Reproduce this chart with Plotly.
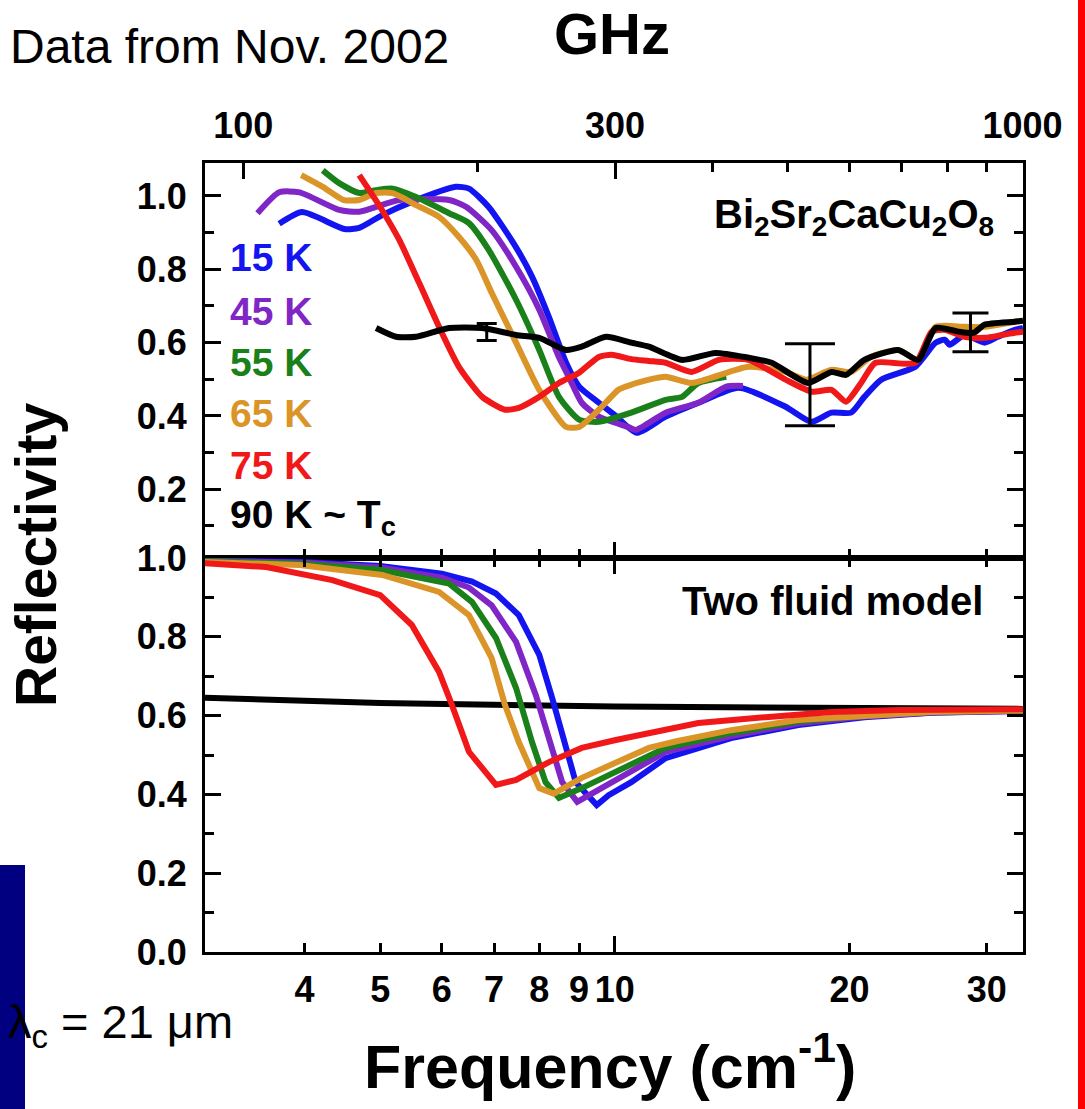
import numpy as np
import plotly.graph_objects as go

# ---------------- data ----------------
GHZ_PER_CM = 29.9792458

# Top panel: measured reflectivity (frequency in cm^-1)
blue_f = [3.71, 3.97, 4.50, 4.70, 5.03, 5.49, 6.25, 6.50, 6.89, 7.47, 7.83, 8.23, 8.66, 9.0, 9.54, 10.03,
          10.67, 11.62, 12.81, 14.42, 16.56, 17.88, 18.97, 20.1, 20.9, 21.97, 24.3, 25.8, 26.5, 26.9, 28.1,
          29.8, 31.0, 32.6, 33.4]
blue_R = [0.924, 0.956, 0.91, 0.913, 0.948, 0.984, 1.025, 1.02, 0.97, 0.86, 0.78, 0.67, 0.545, 0.48, 0.436,
          0.40, 0.354, 0.398, 0.436, 0.477, 0.425, 0.384, 0.409, 0.409, 0.452, 0.499, 0.534, 0.60, 0.608,
          0.594, 0.621, 0.60, 0.616, 0.635, 0.64]

purple_f = [3.48, 3.71, 3.94, 4.43, 4.70, 5.29, 6.13, 6.45, 6.95, 7.47, 8.0, 8.48, 8.76, 9.07, 9.54, 10.4,
            10.64, 11.62, 12.8, 13.9, 14.6]
purple_R = [0.953, 1.01, 1.01, 0.962, 0.957, 0.989, 0.989, 0.97, 0.907, 0.807, 0.69, 0.56, 0.50, 0.436,
            0.398, 0.37, 0.362, 0.409, 0.436, 0.48, 0.482]

green_f = [4.22, 4.43, 4.70, 4.94, 5.19, 5.56, 6.13, 6.50, 6.89, 7.47, 8.0, 8.48, 9.0, 9.54, 10.5, 11.62,
           12.2, 12.8, 13.9]
green_R = [1.07, 1.035, 1.008, 1.016, 1.02, 0.997, 0.953, 0.926, 0.853, 0.717, 0.58, 0.452, 0.39, 0.384,
           0.409, 0.444, 0.452, 0.49, 0.507]

orange_f = [3.96, 4.22, 4.49, 4.70, 4.94, 5.19, 5.56, 5.95, 6.31, 6.64, 6.95, 7.47, 8.0, 8.66, 9.0, 9.54,
            10.1, 10.33, 11.06, 11.62, 12.55, 14.84, 16.56, 17.6, 18.97, 20.1, 21.3, 23.1, 24.5, 25.8, 28.1,
            29.8, 32.6, 33.4]
orange_R = [1.057, 1.025, 0.989, 0.989, 1.008, 1.008, 0.975, 0.943, 0.888, 0.826, 0.736, 0.60, 0.471, 0.37,
            0.37, 0.417, 0.471, 0.48, 0.499, 0.507, 0.49, 0.534, 0.52, 0.499, 0.526, 0.52, 0.561, 0.58,
            0.553, 0.643, 0.643, 0.643, 0.657, 0.66]

red_f = [4.70, 5.0, 5.29, 5.61, 5.95, 6.31, 6.76, 7.23, 7.53, 8.0, 8.48, 9.0, 9.54, 9.91, 10.5, 11.06,
         11.62, 12.55, 13.6, 14.84, 16.56, 17.9, 18.97, 19.8, 20.7, 21.6, 24.3, 25.5, 26.5, 28.1, 29.8,
         32.6, 33.4]
red_R = [1.057, 0.97, 0.88, 0.763, 0.643, 0.534, 0.452, 0.417, 0.422, 0.452, 0.49, 0.518, 0.561, 0.567,
         0.555, 0.55, 0.545, 0.52, 0.553, 0.553, 0.499, 0.466, 0.471, 0.439, 0.49, 0.545, 0.545, 0.63,
         0.635, 0.616, 0.613, 0.627, 0.63]

black_f = [4.94, 5.24, 5.56, 6.13, 6.76, 7.47, 8.0, 8.66, 9.07, 9.74, 10.5, 11.06, 12.2, 13.46, 14.84,
           15.9, 17.7, 18.97, 19.8, 20.9, 23.1, 24.5, 25.8, 27.6, 28.9, 29.8, 32.6, 33.4]
black_R = [0.64, 0.616, 0.616, 0.64, 0.64, 0.621, 0.613, 0.58, 0.589, 0.616, 0.60, 0.589, 0.553, 0.572,
           0.559, 0.545, 0.49, 0.52, 0.512, 0.553, 0.58, 0.553, 0.64, 0.63, 0.627, 0.649, 0.657, 0.66]

errbar_f = [6.85, 17.8, 28.6]
errbar_R = [0.629, 0.485, 0.628]
errbar_err = [0.023, 0.112, 0.053]

# Bottom panel: two fluid model
m_blue_f = [2.98, 4.0, 5.0, 6.0, 6.56, 7.04, 7.53, 8.0, 8.31, 8.66, 8.91, 9.48, 9.82, 10.5, 11.62, 14.1,
            17.2, 20.9, 25.5, 33.4]
m_blue_R = [0.993, 0.99, 0.98, 0.96, 0.94, 0.91, 0.855, 0.754, 0.645, 0.518, 0.431, 0.373, 0.398, 0.431,
            0.492, 0.543, 0.576, 0.596, 0.607, 0.612]

m_purple_f = [2.98, 4.0, 5.0, 6.0, 6.5, 6.95, 7.47, 7.92, 8.23, 8.56, 8.95, 9.54, 10.5, 11.62, 14.1, 17.2,
              20.9, 25.5, 33.4]
m_purple_R = [0.993, 0.988, 0.976, 0.95, 0.925, 0.88, 0.787, 0.652, 0.543, 0.431, 0.381, 0.412, 0.457,
              0.508, 0.548, 0.58, 0.598, 0.608, 0.612]

m_green_f = [2.98, 4.0, 5.0, 6.13, 6.56, 7.04, 7.47, 7.83, 8.15, 8.48, 9.07, 10.03, 11.06, 11.62, 14.1,
             17.2, 20.9, 25.5, 33.4]
m_green_R = [0.992, 0.985, 0.97, 0.935, 0.888, 0.797, 0.67, 0.533, 0.431, 0.391, 0.416, 0.457, 0.50,
             0.518, 0.556, 0.585, 0.60, 0.609, 0.613]

m_orange_f = [2.98, 3.94, 5.03, 5.95, 6.50, 6.95, 7.23, 7.53, 8.0, 8.35, 9.07, 10.03, 11.06, 12.0, 14.1,
              17.2, 20.9, 25.5, 33.4]
m_orange_R = [0.99, 0.982, 0.957, 0.914, 0.855, 0.746, 0.627, 0.533, 0.416, 0.402, 0.442, 0.482, 0.518,
              0.535, 0.563, 0.589, 0.60, 0.609, 0.613]

m_red_f = [2.98, 3.57, 4.34, 5.0, 5.49, 5.95, 6.18, 6.5, 7.04, 7.47, 8.23, 9.07, 10.03, 11.06, 12.8, 15.6,
           19.0, 23.1, 33.4]
m_red_R = [0.987, 0.977, 0.944, 0.906, 0.83, 0.711, 0.627, 0.508, 0.424, 0.437, 0.482, 0.518, 0.538,
           0.556, 0.581, 0.596, 0.609, 0.614, 0.616]

m_black_f = [2.98, 5.0, 10.0, 20.0, 33.4]
m_black_R = [0.645, 0.632, 0.623, 0.619, 0.617]

cm_ticks = [4, 5, 6, 7, 8, 9, 10, 20, 30]
cm_labels = ["4", "5", "6", "7", "8", "9", "10", "20", "30"]
ghz_major = [100, 300, 1000]
ghz_minor = [200, 400, 500, 600, 700, 800, 900]
top_yticks = [0.2, 0.4, 0.6, 0.8, 1.0]
bot_yticks = [0.0, 0.2, 0.4, 0.6, 0.8, 1.0]
temps = ["15 K", "45 K", "55 K", "65 K", "75 K", "90 K ~ T<sub>c</sub>"]

# ---------------- style ----------------
W, H = 1085, 1109
COL = {"blue": "#1414F0", "purple": "#8026C6", "green": "#1A801A", "orange": "#DA9428",
       "red": "#F01818", "black": "#000000"}
FONT = "Liberation Sans, Arial, sans-serif"
LW = 6


def px_x(p):
    return p / W


def px_y(p):
    return 1 - p / H


XDOM = [px_x(205), px_x(1023)]
TOP_DOM = [px_y(558), px_y(163)]
BOT_DOM = [px_y(952), px_y(558)]
XR = [np.log10(2.98), np.log10(33.4)]

fig = go.Figure()

# top panel (the overlay axes share the exact same log range, so any of them can host a trace)
top_series = [(blue_f, blue_R, "blue", "x"), (purple_f, purple_R, "purple", "x"),
              (green_f, green_R, "green", "x"), (orange_f, orange_R, "orange", "x"),
              (red_f, red_R, "red", "x"), (black_f, black_R, "black", "x3")]
for f, r, c, xa in top_series:
    fig.add_trace(go.Scatter(x=f, y=r, mode="lines", line=dict(color=COL[c], width=LW, shape="spline",
                                                                 smoothing=0.6),
                             xaxis=xa, yaxis="y", showlegend=False, hoverinfo="skip"))

cap_half = [10, 25, 18]
err_axes = ["x5", "x6", "x3"]
for i in range(len(errbar_f)):
    fig.add_trace(go.Scatter(x=[errbar_f[i]], y=[errbar_R[i]], mode="lines",
                             line=dict(color="black", width=1),
                             error_y=dict(type="data", array=[errbar_err[i]], color="black",
                                          thickness=3, width=cap_half[i]),
                             xaxis=err_axes[i], yaxis="y", showlegend=False, hoverinfo="skip"))

bot_series = [(m_black_f, m_black_R, "black", "x2"), (m_blue_f, m_blue_R, "blue", "x2"),
              (m_purple_f, m_purple_R, "purple", "x2"), (m_green_f, m_green_R, "green", "x2"),
              (m_orange_f, m_orange_R, "orange", "x2"), (m_red_f, m_red_R, "red", "x4")]
for f, r, c, xa in bot_series:
    fig.add_trace(go.Scatter(x=f, y=r, mode="lines", line=dict(color=COL[c], width=LW),
                             xaxis=xa, yaxis="y2", showlegend=False, hoverinfo="skip"))

tickfont = dict(family=FONT, size=36, color="black", weight="bold")
axcommon = dict(showline=True, linewidth=3, linecolor="black", ticks="inside", tickwidth=3,
                tickcolor="black", showgrid=False, zeroline=False, automargin=False)
GHZ_MAJ = [g / GHZ_PER_CM for g in ghz_major]
GHZ_MIN = [g / GHZ_PER_CM for g in ghz_minor]

fig.update_layout(
    template="none",
    width=W, height=H, autosize=False, margin=dict(l=0, r=0, t=0, b=0, pad=0, autoexpand=False),
    paper_bgcolor="white", plot_bgcolor="rgba(0,0,0,0)", showlegend=False,
    xaxis=dict(domain=XDOM, anchor="y", type="log", range=XR, tickmode="array", tickvals=cm_ticks,
               showticklabels=False, ticklen=9, **axcommon),
    xaxis2=dict(domain=XDOM, anchor="y2", type="log", range=XR, tickmode="array", tickvals=cm_ticks,
                ticktext=cm_labels, ticklen=9, mirror="ticks", tickfont=tickfont, ticklabelstandoff=4,
                **axcommon),
    xaxis3=dict(overlaying="x", anchor="y", side="top", type="log", range=XR, tickmode="array",
                tickvals=GHZ_MAJ, ticktext=[str(g) for g in ghz_major],
                ticklen=16, tickfont=tickfont, ticklabelstandoff=8, **axcommon),
    xaxis6=dict(overlaying="x", anchor="y", side="top", type="log", range=XR, tickmode="array",
                tickvals=GHZ_MIN, showticklabels=False, ticklen=9, **axcommon),
    xaxis4=dict(overlaying="x2", anchor="y2", type="log", range=XR, tickmode="array", tickvals=[10],
                showticklabels=False, ticklen=16, mirror="ticks", **axcommon),
    xaxis5=dict(overlaying="x", anchor="y", type="log", range=XR, tickmode="array", tickvals=[10],
                showticklabels=False, ticklen=16, **axcommon),
    yaxis=dict(domain=TOP_DOM, anchor="x", range=[0.0125, 1.09], tickmode="array", tickvals=top_yticks,
               ticktext=["%.1f" % v for v in top_yticks], ticklen=16, mirror="ticks", tickfont=tickfont,
               ticklabelstandoff=8,
               minor=dict(tickmode="linear", tick0=0, dtick=0.1, ticklen=9, tickwidth=3, ticks="inside",
                          tickcolor="black"),
               **axcommon),
    yaxis2=dict(domain=BOT_DOM, anchor="x2", range=[0, 1.0], tickmode="array", tickvals=bot_yticks,
                ticktext=["%.1f" % v for v in bot_yticks], ticklen=16, mirror="ticks", tickfont=tickfont,
                ticklabelstandoff=8,
                minor=dict(tickmode="linear", tick0=0, dtick=0.1, ticklen=9, tickwidth=3, ticks="inside",
                           tickcolor="black"),
                **axcommon),
)

# decorative slide elements
fig.add_shape(type="rect", xref="paper", yref="paper", x0=0, x1=px_x(25), y0=0, y1=px_y(865),
              fillcolor="#000080", line=dict(width=0), layer="below")
fig.add_shape(type="rect", xref="paper", yref="paper", x0=px_x(1078), x1=1, y0=0, y1=1,
              fillcolor="#FF0000", line=dict(width=0), layer="below")

ann = []
temp_cols = ["blue", "purple", "green", "orange", "red", "black"]
temp_y = [257, 311, 362, 413, 466, 517]
for t, c, yy in zip(temps, temp_cols, temp_y):
    ann.append(dict(text=t, x=px_x(228), y=px_y(yy), xanchor="left", yanchor="middle",
                    font=dict(family=FONT, size=39, color=COL[c], weight="bold")))
ann.append(dict(text="Bi<sub>2</sub>Sr<sub>2</sub>CaCu<sub>2</sub>O<sub>8</sub>", x=px_x(996), y=px_y(217),
                xanchor="right", yanchor="middle",
                font=dict(family=FONT, size=40, color="black", weight="bold")))
ann.append(dict(text="Two fluid model", x=px_x(985), y=px_y(601), xanchor="right", yanchor="middle",
                font=dict(family=FONT, size=40, color="black", weight="bold")))
ann.append(dict(text="Data from Nov. 2002", x=px_x(8), y=px_y(46), xanchor="left", yanchor="middle",
                font=dict(family=FONT, size=48, color="black")))
ann.append(dict(text="GHz", x=px_x(612), y=px_y(34), xanchor="center", yanchor="middle",
                font=dict(family=FONT, size=58, color="black", weight="bold")))
ann.append(dict(text="Reflectivity", x=px_x(36), y=px_y(555), xanchor="center", yanchor="middle",
                textangle=-90, font=dict(family=FONT, size=57, color="black", weight="bold")))
ann.append(dict(text="λ<sub>c</sub> = 21 μm", x=px_x(6), y=px_y(1025), xanchor="left", yanchor="middle",
                font=dict(family=FONT, size=47, color="black")))
ann.append(dict(text="Frequency (cm<sup>-1</sup>)", x=px_x(610), y=px_y(1062), xanchor="center",
                yanchor="middle", font=dict(family=FONT, size=61, color="black", weight="bold")))
for a in ann:
    a.update(xref="paper", yref="paper", showarrow=False)
fig.update_layout(annotations=ann)

fig.write_html("out.html")
